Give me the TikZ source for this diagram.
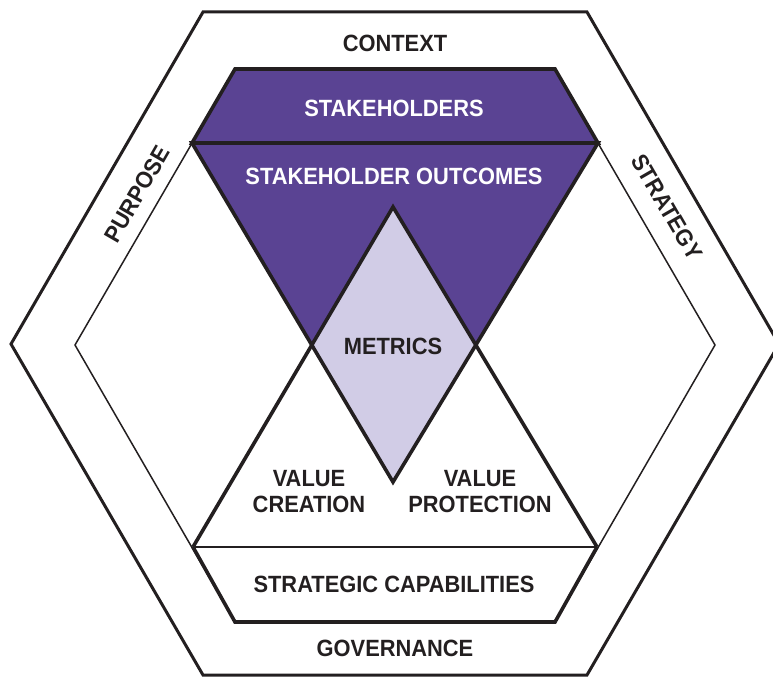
\documentclass[tikz,border=0pt]{standalone}
\usepackage{fontspec}
\setmainfont[FakeStretch=0.93]{Liberation Sans}
\definecolor{ink}{HTML}{231F20}
\definecolor{deeppurple}{HTML}{5A4393}
\definecolor{palepurple}{HTML}{D1CCE6}
\tikzset{
  fieldtext/.style={font=\bfseries\fontsize{23.5}{26}\selectfont, text=ink, align=center, inner sep=0pt},
  heavyline/.style={draw=ink, line width=3.6pt},
  midline/.style={draw=ink, line width=2.6pt},
  thinline/.style={draw=ink, line width=1.5pt}
}
\begin{document}
\begin{tikzpicture}[x=1pt, y=-1pt]
  \useasboundingbox (0,0) rectangle (773,677);

  % outer and inner hexagons
  \draw[ink, line width=3pt] (203,12) -- (587,12) -- (779,344) -- (587,675) -- (203,675) -- (11,344) -- cycle;
  \draw[thinline] (235,69) -- (555,69) -- (715,345) -- (555,622) -- (235,622) -- (75,345) -- cycle;

  % corner points of the two triangles
  \coordinate (tl) at (192,143);
  \coordinate (tr) at (598,143);
  \coordinate (tapex) at (393,482);
  \coordinate (bl) at (193,547);
  \coordinate (br) at (597,547);
  \coordinate (bapex) at (393,207);
  \coordinate (mleft) at (intersection of tl--tapex and bl--bapex);
  \coordinate (mright) at (intersection of tr--tapex and br--bapex);

  % stakeholders band
  \filldraw[heavyline, fill=deeppurple] (235,69) -- (555,69) -- (tr) -- (tl) -- cycle;

  % outcomes triangle and metrics diamond
  \fill[deeppurple] (tl) -- (tr) -- (tapex) -- cycle;
  \fill[palepurple] (bapex) -- (mright) -- (tapex) -- (mleft) -- cycle;
  \draw[heavyline] (tl) -- (tr) -- (tapex) -- cycle;
  \draw[heavyline] (bl) -- (bapex) -- (br);

  % strategic capabilities band
  \draw[midline] (bl) -- (br);
  \draw[heavyline] (br) -- (555,622) -- (235,622) -- (bl);

  \node[fieldtext] (context) at (395,43) {CONTEXT};
  \node[fieldtext, text=white] (stakeholders) at (394,108) {STAKEHOLDERS};
  \node[fieldtext, text=white] (outcomes) at (394,176) {STAKEHOLDER OUTCOMES};
  \node[fieldtext] (metrics) at (393,346) {METRICS};
  \node[fieldtext] (creation) at (309,492) {VALUE\\CREATION};
  \node[fieldtext] (protection) at (480,492) {VALUE\\PROTECTION};
  \node[fieldtext] (capabilities) at (394,584) {STRATEGIC CAPABILITIES};
  \node[fieldtext] (governance) at (395,648) {GOVERNANCE};
  \node[fieldtext, rotate=60] (purpose) at (137,194) {PURPOSE};
  \node[fieldtext, rotate=-60] (strategy) at (667,207) {STRATEGY};
\end{tikzpicture}
\end{document}
